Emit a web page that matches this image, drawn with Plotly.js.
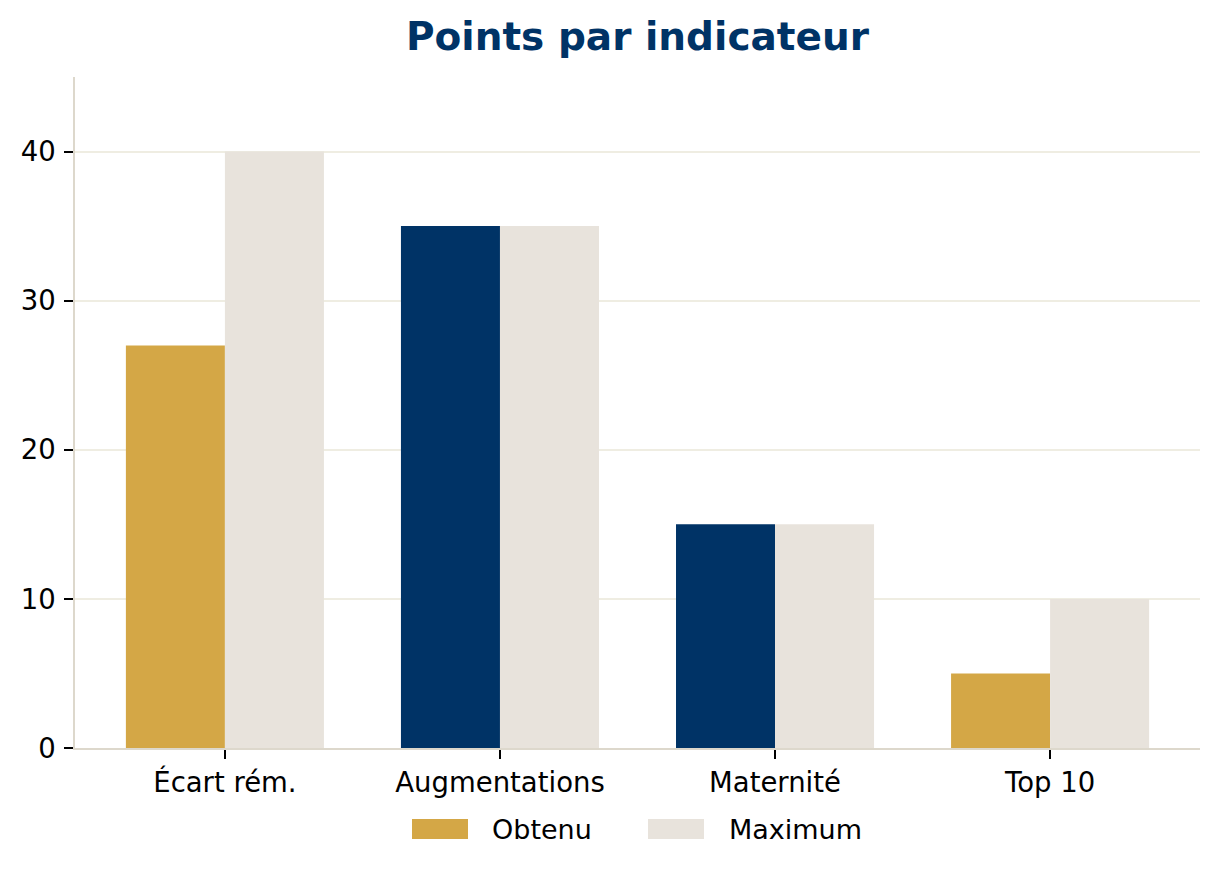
<!DOCTYPE html>
<html>
<head>
<meta charset="utf-8">
<script src="https://cdn.plot.ly/plotly-3.0.1.min.js"></script>
<style>html,body{margin:0;padding:0;background:#fff;}#chart{width:1220px;height:876px;}</style>
</head>
<body>
<div id="chart"></div>
<script>
const categories = ["Écart rém.", "Augmentations", "Maternité", "Top 10"];
const obtenu = [27, 35, 15, 5];
const maximum = [40, 35, 15, 10];
const obtenuColors = ["#D4A746", "#003366", "#003366", "#D4A746"];
const yTicks = [0, 10, 20, 30, 40];
const legendNames = ["Obtenu", "Maximum"];
const legendColors = ["#D4A746", "#E8E3DC"];

const font = "DejaVu Sans, sans-serif";

const traces = [
  {type: "bar", name: legendNames[0], x: categories, y: obtenu,
   marker: {color: obtenuColors, line: {width: 0}}, showlegend: false, hoverinfo: "x+y"},
  {type: "bar", name: legendNames[1], x: categories, y: maximum,
   marker: {color: legendColors[1], line: {width: 0}}, showlegend: false, hoverinfo: "x+y"}
];

// custom legend (swatches + labels) in paper coordinates
const shapes = [];
const annotations = [];
const swX = [412, 648];
const txX = [490, 727];
legendNames.forEach((n, i) => {
  shapes.push({type: "rect", xref: "paper", yref: "paper",
    x0: (swX[i] - 75) / 1125, x1: (swX[i] + 56 - 75) / 1125,
    y0: (748 - 839) / 671, y1: (748 - 819) / 671,
    fillcolor: legendColors[i], line: {width: 0}});
  annotations.push({xref: "paper", yref: "paper", x: (txX[i] - 75) / 1125,
    y: (748 - 829) / 671, xanchor: "left", yanchor: "middle", showarrow: false,
    text: n, font: {family: font, size: 27, color: "#000"}});
});

const layout = {
  width: 1220, height: 876,
  margin: {l: 75, r: 20, t: 77, b: 128},
  paper_bgcolor: "#fff", plot_bgcolor: "#fff",
  font: {family: font, color: "#000"},
  title: {text: "<b>Points par indicateur</b>", font: {family: font, size: 39, color: "#003366"},
          x: 0.5225, xanchor: "center", y: 0.958, yref: "container", yanchor: "middle"},
  barmode: "group", bargap: 0.28, bargroupgap: 0,
  xaxis: {type: "category", range: [-0.545, 3.545], showgrid: false,
    showline: true, linecolor: "#DDD8CC", linewidth: 1.5,
    ticks: "outside", ticklen: 9, tickwidth: 1.5, tickcolor: "#000",
    ticklabelstandoff: 0,
    tickfont: {family: font, size: 27.5, color: "#000"}, zeroline: false},
  yaxis: {range: [0, 45], tickvals: yTicks, showgrid: true, gridcolor: "#EFEDE2", gridwidth: 1.5,
    showline: true, linecolor: "#DDD8CC", linewidth: 1.5,
    ticks: "outside", ticklen: 9, tickwidth: 1.5, tickcolor: "#000",
    ticklabelstandoff: 3,
    tickfont: {family: font, size: 27.5, color: "#000"}, zeroline: false},
  shapes: shapes,
  annotations: annotations
};

Plotly.newPlot("chart", traces, layout, {displayModeBar: false, responsive: false});
</script>
</body>
</html>
